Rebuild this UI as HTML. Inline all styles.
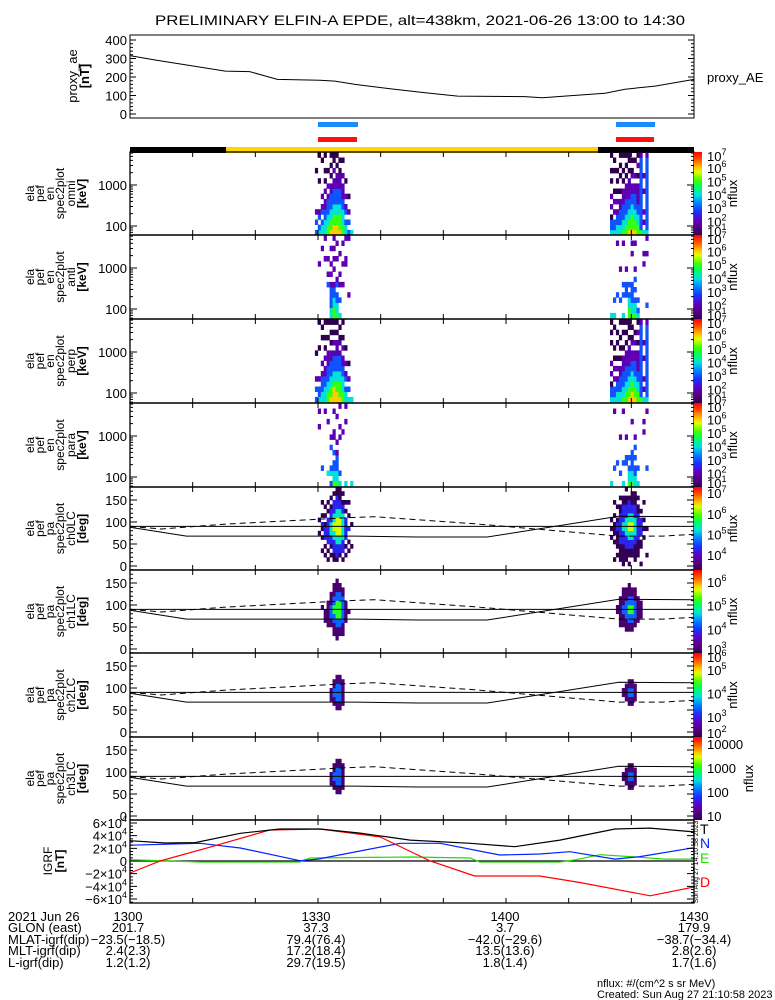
<!DOCTYPE html>
<html><head><meta charset="utf-8"><title>ELFIN-A EPDE</title>
<style>
html,body{margin:0;padding:0;background:#fff;}
svg{display:block;font-family:"Liberation Sans",sans-serif;}
</style></head>
<body>
<svg id="chart" xmlns="http://www.w3.org/2000/svg" width="775" height="1000" viewBox="0 0 775 1000">
<defs>
<linearGradient id="cmap" x1="0" y1="1" x2="0" y2="0">
<stop offset="0" stop-color="#300050"/><stop offset="0.08" stop-color="#52007c"/>
<stop offset="0.18" stop-color="#6000c0"/><stop offset="0.28" stop-color="#1830ff"/>
<stop offset="0.40" stop-color="#0090ff"/><stop offset="0.48" stop-color="#00e0e0"/>
<stop offset="0.58" stop-color="#00ff60"/><stop offset="0.66" stop-color="#40ff00"/>
<stop offset="0.76" stop-color="#e0ff00"/><stop offset="0.82" stop-color="#ffc000"/>
<stop offset="0.90" stop-color="#ff6000"/><stop offset="1" stop-color="#ff0000"/>
</linearGradient>
</defs>
<rect x="0" y="0" width="775" height="1000" fill="#fff"/>
<text x="420" y="25" text-anchor="middle" font-size="14" textLength="530" lengthAdjust="spacingAndGlyphs">PRELIMINARY ELFIN-A EPDE, alt=438km, 2021-06-26 13:00 to 14:30</text>
</svg>
<script>
// ---------- data ----------
const aeTimes=[0.1,4,15.2,19.1,23.5,30.3,32.7,35.9,41.5,47.1,52.3,63,65.8,70.2,75.8,79,83.8,90];
const aeValues=[315,292,232,229,187,182,178,160,137,115,97,94,88,99,112,134,151,187];

const ev1Start=29.5, ev2Start=76.6, colWidth=0.47;

const e1Omni=["3.3.2.......1...","43.32.....1....1","443.32.2......1.","4443322.2.1.1..1","55443332.2..1...","6554433322.1.1.1","66554433322.2.11","665544333222.1.1","6555443332221.1.","5544433222.2..1.","443.32.2..1.....","3.3.2..1........","4..............."];
const e1Anti=["................","..........2.....",".............2..","...........2...2","......3.2..2....","4433332.2.2..2..","5544332..2.2.2.2","54433.32...2..2.","4..3..2.2...2...","......2...2...2.","..........22...2","....2..........2","................"];
const e1Perp=["3.3.2....1......","433.2.....1....1","443332.2....1.1.","4443322.2.1.1..1","5544333222..1..1","6554433322.1.1.1","6665443332.2.1.1","665544333222.1.1","6555443332.21.1.","554443322.2.1..1","443.32.2..1.....","4.3.2..1........","4..............."];
const e1Para=["................","...........2..2.","...3............","..............2.","..4.........2...","3.43...3.2......","54433.3..22...2.","5443332.2....2..","4.3......2.2...2","..........2.....","4...........2..2","................","4..............."];

const e2Omni=["4331.2.2..1.1..1","433.2.2.1...1.1.","44332.2.1.1.1...","4433322.1..1.1.1","544333222.1.1..1","5544333222.1.1.1","65544332222.1.11","6555443322.21.1.","6554433322.2..1.","5544332222.1.2.1","5333333333333332","4.2.2...2..2....","4333333333333332"];
const e2Anti=["4...............","4..3............","....3.........2.","...3.....2......","4...3.3.......2.","....333..2......","55443.3.........","5443333.....2.2.","5443.3.3.2....2.","43.3............","................","..........2.2...","..3.........2..2"];
const e2Perp=["4331.2.2...1.1.1","433.2.2.1.1...1.","44332.2.1..1.1..","4433322.1.1.1..1","544333222.1..1.1","5544333222.1.1.1","65544332222.1.11","6655443322.21.1.","6554433322.2.1..","5544332222.1.2.1","5333333333333332","4.2.2...2..2....","4333333333333332"];
const e2Para=["4...............","...3..........2.","....3...........","..3......2......","4...3.........2.","....33...2......","5443.3..........","5443333.....2...","4433.3.3.2......","4..3............","................","..........2.2...","...3..........2."];

const e1Pa=["..................",".......3..3.......","...3..3.34.3..3...","..3.3.4443.3.3....",".3.3.444444.3.3...","..3.3445554443.3..",".33444556655444.3.",".34445566665544433","..3445566665544333",".3.444555555443.3.","..3.3.44444.3.3...","...3.3..4..3..3...","....3....3........"];
const e2Pa=["......3.3.3.......",".3...3.333.3..3...","..3.3333443..3....",".3333444444433.3..","3333344455444433..",".333444555544433.3","3.33445566554443..","..334455665544333.",".3333445555444333.","..333344444433.3..","3...33.4444.3.....","......3.3.3...3...","..3.....3........."];
const paChannels=["ch0LC","ch1LC","ch2LC","ch3LC"];
const paOffsets=[0.3,-0.8,-2.6,-4.0];

const lcTimes=[0,9,36,46,57,78,90];
const lcValues=[88,68,68,66,66,113,112];
const alcTimes=[0,5,15,35,39,55,78,85,90];
const alcValues=[90,84,95,110,112,96,68,68,72];

const igrfTTimes=[0,5.6,10.4,17.6,23.9,30.3,36.7,44.7,54.3,61.4,68.6,77.4,83,90];
const igrfT=[32000,28400,29000,43700,50500,50500,44000,33000,28000,22600,33000,50500,52000,46000];
const igrfNTimes=[0,11.2,17.6,27.1,30,43.1,49.5,59,65.4,70.2,77.4,81.4,90];
const igrfN=[25000,28000,20500,500,3000,28000,28000,9500,11000,14700,3000,7000,21000];
const igrfETimes=[0,0.8,11.2,27.1,28.7,44.7,54.3,55.8,68.6,71,75,79.8,85.4,90];
const igrfE=[1700,1700,-1600,-1600,4700,6300,4700,-1600,-1600,1700,10000,7000,3000,3000];
const igrfDTimes=[0,4.8,12.8,22.3,30.3,39.9,47.9,55,65.4,71.8,83,90];
const igrfD=[-19000,0,22000,49000,50500,38000,0,-23700,-23700,-34000,-55000,-41000];

const xTickLabels=["1300","1330","1400","1430"];
const glonValues=["201.7","37.3","3.7","179.9"];
const mlatValues=["\u221223.5(\u221218.5)","79.4(76.4)","\u221242.0(\u221229.6)","\u221238.7(\u221234.4)"];
const mltValues=["2.4(2.3)","17.2(18.4)","13.5(13.6)","2.8(2.6)"];
const lValues=["1.2(1.2)","29.7(19.5)","1.8(1.4)","1.7(1.6)"];

// ---------- helpers ----------
const NS="http://www.w3.org/2000/svg";
const svg=document.getElementById('chart');
function el(tag,attrs){const e=document.createElementNS(NS,tag);for(const k in attrs)e.setAttribute(k,attrs[k]);svg.appendChild(e);return e;}
const X0=130,X1=694;
const xs=t=>X0+t/90*(X1-X0);
const stops=[[0,[48,0,80]],[0.08,[82,0,124]],[0.18,[96,0,192]],[0.28,[24,48,255]],[0.40,[0,144,255]],[0.48,[0,224,224]],[0.58,[0,255,96]],[0.66,[64,255,0]],[0.76,[224,255,0]],[0.82,[255,192,0]],[0.90,[255,96,0]],[1,[255,0,0]]];
function cmap(t){t=Math.max(0,Math.min(1,t));for(let i=1;i<stops.length;i++){if(t<=stops[i][0]){const a=stops[i-1],b=stops[i];const f=(t-a[0])/(b[0]-a[0]);const c=a[1].map((v,k)=>Math.round(v+(b[1][k]-v)*f));return `rgb(${c[0]},${c[1]},${c[2]})`;}}return 'rgb(255,0,0)';}
function poly(times,vals,ys){return times.map((t,i)=>xs(t).toFixed(1)+','+ys(vals[i]).toFixed(1)).join(' ');}

// ---------- panels ----------
const ePanels=[
 {top:152,bot:235,name:"omni",d1:e1Omni,d2:e2Omni},
 {top:235,bot:319,name:"anti",d1:e1Anti,d2:e2Anti},
 {top:319,bot:403,name:"perp",d1:e1Perp,d2:e2Perp},
 {top:403,bot:487,name:"para",d1:e1Para,d2:e2Para}];
const pPanels=[
 {top:487,bot:570,lo:3.28,hi:7.3,labs:[4,5,6,7]},
 {top:570,bot:653,lo:3.0,hi:6.5,labs:[3,4,5,6]},
 {top:653,bot:737,lo:2.15,hi:5.72,labs:[2,3,4,5,6]},
 {top:737,bot:820,lo:0.83,hi:4.3,labs:[1,2,3,4]}];

// proxy AE panel
{
 const yA=v=>114-v*0.185;
 const pl=el('polyline',{points:poly(aeTimes,aeValues,yA),fill:'none',stroke:'#000','stroke-width':1});
 
 
 for(let v=0;v<=400;v+=20){const L=v%100===0?6:3;
  const tk=el('path',{d:`M130 ${yA(v)}h${L}M694 ${yA(v)}h-${L}`,stroke:'#000','stroke-width':1});
  
  
  if(v%100===0){const t=el('text',{x:127,y:yA(v)+5,'text-anchor':'end','font-size':13});t.textContent=v;
   
   }
 }
 const bx=el('rect',{x:130,y:35,width:564,height:83,fill:'none',stroke:'#000','stroke-width':1});
 
 
 const l1=el('text',{x:77,y:76,'text-anchor':'middle','font-size':13,transform:'rotate(-90 77 76)'});l1.textContent='proxy_ae';
 
 
 const l2=el('text',{x:89,y:76,'text-anchor':'middle','font-size':13,'font-weight':'bold',transform:'rotate(-90 89 76)'});l2.textContent='[nT]';
 
 
 const lg=el('text',{x:707,y:82,'font-size':13});lg.textContent='proxy_AE';
 
 
}

// science zone bars
[[318,358],[616,655]].forEach(([a,b])=>{
 const bl=el('rect',{x:a,y:122,width:b-a,height:5,fill:'#1a8cff'});
 
 
 const rd=el('rect',{x:a,y:137,width:b-a-1,height:5,fill:'#ff1010'});
 
 
});
{
 const b1=el('rect',{x:130,y:147,width:96,height:6,fill:'#000'});
 
 
 const b2=el('rect',{x:226,y:147,width:372,height:6,fill:'#ffd700'});
 
 
 const b3=el('rect',{x:598,y:147,width:96,height:6,fill:'#000'});
 
 
}

function leftLabel(lines,yc,xsL){
 lines.forEach((s,i)=>{const x=xsL[i];
  const t=el('text',{x:x,y:yc,'text-anchor':'middle','font-size':12,transform:`rotate(-90 ${x} ${yc})`});
  if(s.startsWith('['))t.setAttribute('font-weight','bold');
  t.textContent=s;
  
  
 });
}
const labX=[34,44,54,64,75,86];
function colorbar(top,bot,lo,hi,labs,nx,plainLabels){
 const cb=el('rect',{x:694,y:top,width:8,height:bot-top,fill:'url(#cmap)'});
 
 
 labs.forEach(k=>{let y=bot-(k-lo)/(hi-lo)*(bot-top);y=Math.max(top+4,Math.min(bot-4,y));
  const t=el('text',{x:707,y:y+5,'font-size':13});
  if(plainLabels)t.textContent=String(Math.pow(10,k));
  else t.innerHTML='10<tspan dy="-6" font-size="9">'+k+'</tspan>';
  
  
 });
 const yc=(top+bot)/2;
 const n=el('text',{x:nx,y:yc,'text-anchor':'middle','font-size':13,transform:`rotate(-90 ${nx} ${yc})`});n.textContent='nflux';
 
 
}
function xTicks(top,bot){
 for(let t=0;t<=90;t+=10){const x=xs(t);
  const tk=el('path',{d:`M${x} ${bot}v-5M${x} ${top}v5`,stroke:'#000','stroke-width':1});
  
  }
}
function drawCells(data,start,nb,binLo,binW,yFn,lo,hi,off,name){
 data.forEach((s,i)=>{const xa=xs(start+i*colWidth),xb=xs(start+(i+1)*colWidth);
  for(let j=0;j<Math.min(s.length,nb);j++){const c=s[j];if(c==='.')continue;
   const v=+c+off;if(v<lo)continue;
   const y1=yFn(binLo+(j+1)*binW),y0=yFn(binLo+j*binW);
   const r=el('rect',{x:xa.toFixed(1),y:y1.toFixed(1),width:(xb-xa+0.3).toFixed(1),height:(y0-y1+0.3).toFixed(1),fill:cmap((v-lo)/(hi-lo))});
   
   
  }});
}

// energy spectrogram panels
ePanels.forEach(p=>{
 const yE=le=>p.top+33-(le-3)*41;
 drawCells(p.d1,ev1Start,16,1.78,0.126,yE,1.0,7.2,0,'energy-spec-cell');
 drawCells(p.d2,ev2Start,16,1.78,0.126,yE,1.0,7.2,0,'energy-spec-cell');
 for(let d=1;d<=3;d++)for(let m=1;m<=9;m++){const le=d+Math.log10(m);const y=yE(le);if(y<p.top||y>p.bot)continue;const L=m===1?7:3;
  const tk=el('path',{d:`M130 ${y}h${L}M694 ${y}h-${L}`,stroke:'#000','stroke-width':1});
  
  }
 [[100,2],[1000,3]].forEach(([lab,le])=>{const t=el('text',{x:127,y:yE(le)+5,'text-anchor':'end','font-size':13});t.textContent=lab;
  
  });
 xTicks(p.top,p.bot);
 const bx=el('rect',{x:130,y:p.top,width:564,height:p.bot-p.top,fill:'none',stroke:'#000','stroke-width':1.3});
 
 
 leftLabel(['ela','pef','en','spec2plot',p.name,'[keV]'],(p.top+p.bot)/2,labX);
 colorbar(p.top,p.bot,1.0,7.2,[1,2,3,4,5,6,7],737,false);
});

// pitch angle panels
pPanels.forEach((p,k)=>{
 const yP=deg=>p.top+79-deg*0.44;
 drawCells(e1Pa,ev1Start,18,0,10,yP,p.lo,p.hi,paOffsets[k],'pitch-angle-cell');
 drawCells(e2Pa,ev2Start,18,0,10,yP,p.lo,p.hi,paOffsets[k],'pitch-angle-cell');
 const h=el('line',{x1:130,x2:694,y1:yP(90),y2:yP(90),stroke:'#000','stroke-width':1});
 
 
 const lc=el('polyline',{points:poly(lcTimes,lcValues,yP),fill:'none',stroke:'#000','stroke-width':1});
 
 
 const alc=el('polyline',{points:poly(alcTimes,alcValues,yP),fill:'none',stroke:'#000','stroke-width':1,'stroke-dasharray':'6,4'});
 
 
 for(let d=0;d<=180;d+=10){const y=yP(d);const L=d%50===0?7:3;
  const tk=el('path',{d:`M130 ${y}h${L}M694 ${y}h-${L}`,stroke:'#000','stroke-width':1});
  
  
  if(d%50===0&&d<=150){const t=el('text',{x:127,y:y+5,'text-anchor':'end','font-size':13});t.textContent=d;
   
   }}
 xTicks(p.top,p.bot);
 const bx=el('rect',{x:130,y:p.top,width:564,height:p.bot-p.top,fill:'none',stroke:'#000','stroke-width':1.3});
 
 
 leftLabel(['ela','pef','pa','spec2plot',paChannels[k],'[deg]'],(p.top+p.bot)/2,labX);
 colorbar(p.top,p.bot,p.lo,p.hi,p.labs,k===3?753:737,k===3);
});

// IGRF panel
{
 const yI=v=>861-v/60000*38;
 const z=el('line',{x1:130,x2:694,y1:861,y2:861,stroke:'#000','stroke-width':1.3});
 
 
 const e=el('polyline',{points:poly(igrfETimes,igrfE,yI),fill:'none',stroke:'#22dd00','stroke-width':1.2});
 
 
 const n=el('polyline',{points:poly(igrfNTimes,igrfN,yI),fill:'none',stroke:'#0022ff','stroke-width':1.2});
 
 
 const d=el('polyline',{points:poly(igrfDTimes,igrfD,yI),fill:'none',stroke:'#ff0000','stroke-width':1.2});
 
 
 const t=el('polyline',{points:poly(igrfTTimes,igrfT,yI),fill:'none',stroke:'#000','stroke-width':1.2});
 
 
 for(let v=-65000;v<=65000;v+=5000){const y=yI(v);const L=v%20000===0?7:3;
  const tk=el('path',{d:`M130 ${y}h${L}M694 ${y}h-${L}`,stroke:'#000','stroke-width':1});
  
  }
 [6,4,2,0,-2,-4,-6].forEach(m=>{const tx=el('text',{x:127,y:yI(m*10000)+5,'text-anchor':'end','font-size':13});
  tx.innerHTML=m===0?'0':(m<0?'\u2212':'')+Math.abs(m)+'\u00d710<tspan dy="-6" font-size="9">4</tspan>';
  
  });
 xTicks(820,903);
 const bx=el('rect',{x:130,y:820,width:564,height:83,fill:'none',stroke:'#000','stroke-width':1.3});
 
 
 leftLabel(['IGRF','[nT]'],861,[52,64]);
 const leg=[['T','#000',834],['N','#0022ff',848],['E','#22dd00',863],['D','#ff0000',887]];
 leg.forEach(([s,c,y])=>{const tx=el('text',{x:700,y:y,'font-size':14,fill:c});tx.textContent=s;
  
  });
 const st=el('text',{x:698,y:862,'text-anchor':'middle','font-size':7,transform:'rotate(-90 698 862)'});st.textContent='Sun Aug 27 14:10:58 2023';
 
 
}

// bottom annotation table
{
 const rowsY=[921,932,944,955,967];
 const heads=['2021 Jun 26','GLON (east)','MLAT-igrf(dip)','MLT-igrf(dip)','L-igrf(dip)'];
 heads.forEach((h,i)=>{const t=el('text',{x:8,y:rowsY[i],'font-size':13});t.textContent=h;
  
  });
 const colX=[128,316,505,694];
 const rows=[xTickLabels,glonValues,mlatValues,mltValues,lValues];
 rows.forEach((r,i)=>r.forEach((s,j)=>{const t=el('text',{x:colX[j],y:rowsY[i],'text-anchor':'middle','font-size':13});t.textContent=s;
  
  }));
 const f1=el('text',{x:597,y:987,'font-size':11});f1.textContent='nflux: #/(cm^2 s sr MeV)';
 
 
 const f2=el('text',{x:597,y:998,'font-size':11});f2.textContent='Created: Sun Aug 27 21:10:58 2023';
 
 
}
</script>
</body></html>
